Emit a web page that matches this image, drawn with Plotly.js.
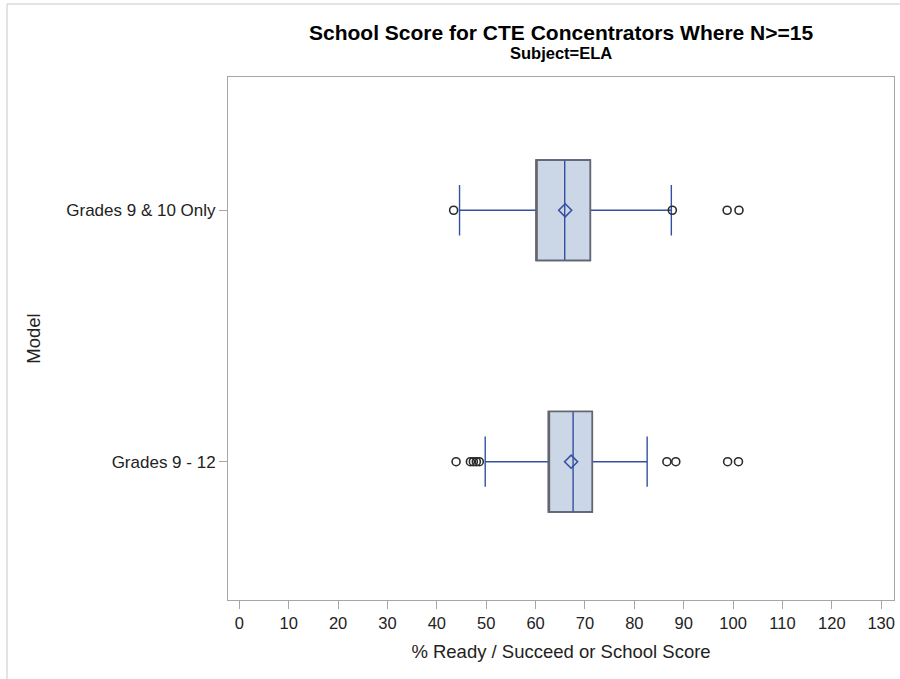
<!DOCTYPE html>
<html>
<head>
<meta charset="utf-8">
<script src="https://cdn.plot.ly/plotly-3.0.1.min.js"></script>
<style>
  html, body { margin: 0; padding: 0; background: #ffffff; }
  #chart { width: 900px; height: 679px; }
</style>
</head>
<body>
<div id="chart"></div>
<script>
// ---- Data ----
var categories = ["Grades 9 - 12", "Grades 9 & 10 Only"];
var positions = [0, 1];
var q1Values = [62.6, 60.1];
var medianValues = [67.6, 65.9];
var q3Values = [71.5, 71.1];
var lowerWhiskers = [49.8, 44.6];
var upperWhiskers = [82.6, 87.5];
var meanValues = [67.2, 66.0];
var outliersGrades912 = [43.9, 46.8, 47.4, 48.0, 48.6, 86.6, 88.4, 98.9, 101.1];
var outliersGrades910 = [43.4, 87.7, 98.8, 101.2];
var xTickValues = [0, 10, 20, 30, 40, 50, 60, 70, 80, 90, 100, 110, 120, 130];

// ---- Styles ----
var blue = "#3450a0";
var fill = "#cbd6e7";
var outline = "#666666";
var frame = "#a6a6a6";
var font = "Liberation Sans, Arial, sans-serif";

var marginL = 228, marginR = 6, marginT = 77, marginB = 79;
var W = 900, H = 679;
var plotW = W - marginL - marginR, plotH = H - marginT - marginB;

var traces = [];

// Box with blue whiskers and median (drawn first)
traces.push({
  type: "box", orientation: "h",
  y: positions,
  q1: q1Values, median: medianValues, q3: q3Values,
  lowerfence: lowerWhiskers, upperfence: upperWhiskers,
  width: 0.4, whiskerwidth: 0.5,
  boxpoints: false,
  fillcolor: fill,
  line: { color: blue, width: 1.4 },
  hoverinfo: "skip", showlegend: false
});

// Gray outline of the box (q1..q3 only), transparent fill
traces.push({
  type: "box", orientation: "h",
  y: positions,
  q1: q1Values, median: q1Values, q3: q3Values,
  lowerfence: q1Values, upperfence: q3Values,
  width: 0.4, whiskerwidth: 0,
  boxpoints: false,
  fillcolor: "rgba(0,0,0,0)",
  line: { color: outline, width: 1.5 },
  hoverinfo: "skip", showlegend: false
});

// Means (open diamonds)
traces.push({
  type: "scatter", mode: "markers",
  x: meanValues, y: positions,
  marker: { symbol: "diamond-open", size: 10, color: blue, line: { width: 1.6, color: blue } },
  hoverinfo: "skip", showlegend: false
});

// Outliers (open circles)
function rep(v, n) { var a = []; for (var i = 0; i < n; i++) a.push(v); return a; }
traces.push({
  type: "scatter", mode: "markers",
  x: outliersGrades912, y: rep(positions[0], outliersGrades912.length),
  marker: { symbol: "circle-open", size: 8, color: "#2b2b2b", line: { width: 1.6, color: "#2b2b2b" } },
  hoverinfo: "skip", showlegend: false
});
traces.push({
  type: "scatter", mode: "markers",
  x: outliersGrades910, y: rep(positions[1], outliersGrades910.length),
  marker: { symbol: "circle-open", size: 8, color: "#2b2b2b", line: { width: 1.6, color: "#2b2b2b" } },
  hoverinfo: "skip", showlegend: false
});

var pxX = function (px) { return (px - marginL) / plotW; };
var pxY = function (py) { return 1 - (py - marginT) / plotH; };

var layout = {
  width: W, height: H,
  margin: { l: marginL, r: marginR, t: marginT, b: marginB, pad: 0 },
  paper_bgcolor: "#ffffff", plot_bgcolor: "#ffffff",
  font: { family: font, color: "#222222", size: 14 },
  showlegend: false,
  xaxis: {
    range: [-2.3, 132.6],
    tickvals: xTickValues,
    ticks: "outside", ticklen: 8, tickcolor: frame, tickwidth: 1,
    showline: true, linecolor: frame, linewidth: 1, mirror: true,
    showgrid: false, zeroline: false,
    tickfont: { family: font, size: 16.5, color: "#222222" },
    title: { text: "% Ready / Succeed or School Score", font: { family: font, size: 18.5, color: "#222222" }, standoff: 14 }
  },
  yaxis: {
    range: [-0.55, 1.53],
    tickvals: positions, ticktext: categories,
    ticks: "outside", ticklen: 8, tickcolor: frame, tickwidth: 1,
    showline: true, linecolor: frame, linewidth: 1, mirror: true,
    showgrid: false, zeroline: false,
    tickfont: { family: font, size: 17, color: "#222222" },
    title: { text: "Model", font: { family: font, size: 18.5, color: "#222222" }, standoff: 20 }
  },
  annotations: [
    { text: "<b>School Score for CTE Concentrators Where N>=15</b>", xref: "paper", yref: "paper",
      x: 0.5, y: pxY(32), xanchor: "center", yanchor: "middle", showarrow: false,
      font: { family: font, size: 21, color: "#000000" } },
    { text: "<b>Subject=ELA</b>", xref: "paper", yref: "paper",
      x: 0.5, y: pxY(53), xanchor: "center", yanchor: "middle", showarrow: false,
      font: { family: font, size: 16.5, color: "#000000" } }
  ],
  shapes: [
    { type: "line", xref: "paper", yref: "paper", x0: pxX(7), x1: pxX(7), y0: pxY(4), y1: pxY(679),
      line: { color: "#c8c8c8", width: 1 } },
    { type: "line", xref: "paper", yref: "paper", x0: pxX(7), x1: pxX(900), y0: pxY(4), y1: pxY(4),
      line: { color: "#c8c8c8", width: 1 } }
  ]
};

Plotly.newPlot("chart", traces, layout, { staticPlot: true, displayModeBar: false });
</script>
</body>
</html>
